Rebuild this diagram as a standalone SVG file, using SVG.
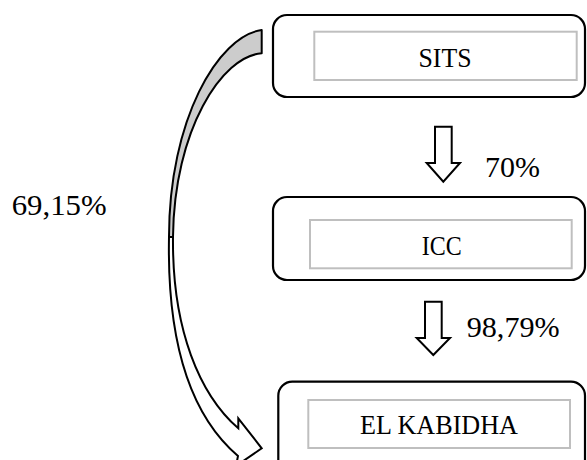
<svg xmlns="http://www.w3.org/2000/svg" width="587" height="460" viewBox="0 0 587 460">
<style>
.outer{fill:#fff;stroke:#000;stroke-width:2.2}
.inner{fill:#fff;stroke:#bfbfbf;stroke-width:2}
.lbl{font-family:"Liberation Serif","Times New Roman",serif;font-size:28px;fill:#000}
.pct{font-family:"Liberation Serif","Times New Roman",serif;font-size:29px;fill:#000}
.blk{fill:#fff;stroke:#000;stroke-width:2;stroke-linejoin:miter}
</style>
<rect width="587" height="460" fill="#fff"/>
<g id="connectors">
  <g id="curved-arrow">
    <path d="M261.7,30 C218,36 169,120 169,237 L173,237 C174,130 222,56 261.7,53.3 Z" fill="#cccccc" stroke="#000" stroke-width="2" stroke-linejoin="round"/>
    <path d="M169,237 C167,340 190,415 238,456 L236,466 L261.7,448.3 L238.3,418.3 L238.3,428.3 C200,395 172,330 173,237 Z" fill="#fff" stroke="#000" stroke-width="2" stroke-linejoin="miter"/>
  </g>
  <path id="arrow-sits-icc" class="blk" d="M435,126.7 L451.7,126.7 L451.7,163 L460,163 L443.3,181.7 L426.7,163 L435,163 Z"/>
  <path id="arrow-icc-elk" class="blk" d="M425,301.7 L441.7,301.7 L441.7,338 L450,338 L433.3,355 L416.7,338 L425,338 Z"/>
  <text class="pct" x="485" y="176.7" textLength="55" lengthAdjust="spacingAndGlyphs">70%</text>
  <text class="pct" x="466.7" y="336.7" textLength="93" lengthAdjust="spacingAndGlyphs">98,79%</text>
  <text class="pct" x="11.7" y="215" textLength="95" lengthAdjust="spacingAndGlyphs">69,15%</text>
</g>
<g id="node-sits">
  <rect class="outer" x="273" y="15" width="312" height="82" rx="14"/>
  <rect class="inner" x="314.3" y="31.7" width="262.4" height="48.3"/>
  <text class="lbl" x="418.5" y="66.7" textLength="53" lengthAdjust="spacingAndGlyphs">SITS</text>
</g>
<g id="node-icc">
  <rect class="outer" x="273" y="197" width="312" height="83" rx="14"/>
  <rect class="inner" x="310" y="220" width="261.7" height="48.3"/>
  <text class="lbl" x="421.7" y="255" textLength="40" lengthAdjust="spacingAndGlyphs">ICC</text>
</g>
<g id="node-elkabidha">
  <rect class="outer" x="278.3" y="381.7" width="306.7" height="100" rx="14"/>
  <rect class="inner" x="308.3" y="400" width="261.7" height="48"/>
  <text class="lbl" x="360" y="434.3" textLength="158" lengthAdjust="spacingAndGlyphs">EL KABIDHA</text>
</g>
</svg>
